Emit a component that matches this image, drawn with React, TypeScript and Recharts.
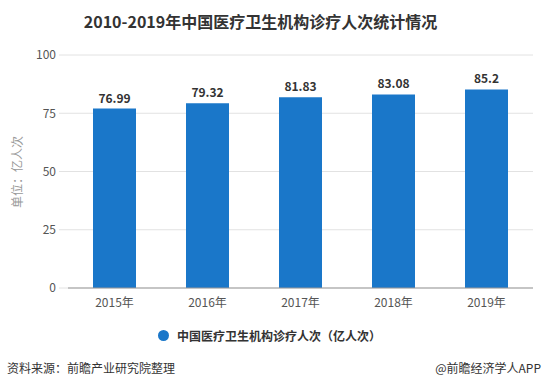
import React from 'react';
import { BarChart, Bar, XAxis, YAxis, CartesianGrid, Legend, LabelList } from 'recharts';

const years = ['2015年', '2016年', '2017年', '2018年', '2019年'];
const visits = [76.99, 79.32, 81.83, 83.08, 85.2];
const yTicks = [0, 25, 50, 75, 100];

const BLUE = '#1a77c9';
const FONT = '"Microsoft YaHei", "Noto Sans CJK SC", "Noto Sans", sans-serif';

const data = years.map((year, i) => ({ year, value: visits[i] }));

const renderLegend = () => (
    <div style={{ display: 'flex', justifyContent: 'center', alignItems: 'center', marginLeft: -6 }}>
        <span style={{ width: 11, height: 11, borderRadius: '50%', background: BLUE, display: 'inline-block', marginRight: 8 }} />
        <span style={{ fontSize: 12, fontWeight: 'bold', color: '#333' }}>中国医疗卫生机构诊疗人次（亿人次）</span>
    </div>
);

const App: React.FC = () => {
    return (
        <div style={{ position: 'relative', width: 545, height: 388, background: '#fff', fontFamily: FONT, overflow: 'hidden' }}>
            <style>{'body { margin: 0; }'}</style>

            {/* Title */}
            <div style={{ position: 'absolute', top: 9, left: 0, width: 521, textAlign: 'center', fontSize: 16, fontWeight: 'bold', color: '#333' }}>
                2010-2019年中国医疗卫生机构诊疗人次统计情况
            </div>

            {/* Y axis unit */}
            <div
                style={{
                    position: 'absolute',
                    left: 16,
                    top: 172,
                    transform: 'translate(-50%, -50%) rotate(-90deg)',
                    fontSize: 12,
                    color: '#999',
                    whiteSpace: 'nowrap',
                }}
            >
                单位：亿人次
            </div>

            <BarChart
                width={545}
                height={388}
                data={data}
                margin={{ top: 55, right: 12, left: 10, bottom: 53 }}
                style={{ position: 'absolute', top: 0, left: 0 }}
            >
                <CartesianGrid vertical={false} stroke="#e2e2e2" />
                <XAxis
                    dataKey="year"
                    tickLine={false}
                    axisLine={{ stroke: '#999' }}
                    tick={{ fontSize: 12, fill: '#555' }}
                    tickMargin={4}
                    height={30}
                />
                <YAxis
                    domain={[0, 100]}
                    ticks={yTicks}
                    width={58}
                    axisLine={false}
                    tickLine={{ stroke: '#e2e2e2' }}
                    tickSize={9}
                    tickMargin={3}
                    tick={{ fontSize: 12, fill: '#555' }}
                />
                <Legend content={renderLegend} wrapperStyle={{ top: 327, left: 0, width: 545 }} />
                <Bar dataKey="value" fill={BLUE} barSize={43} isAnimationActive={false}>
                    <LabelList dataKey="value" position="top" offset={6} style={{ fontSize: 12, fontWeight: 'bold', fill: '#333' }} />
                </Bar>
            </BarChart>

            {/* Footer */}
            <div style={{ position: 'absolute', top: 359, left: 7, fontSize: 12, color: '#333', whiteSpace: 'nowrap' }}>资料来源：前瞻产业研究院整理</div>
            <div style={{ position: 'absolute', top: 359, left: 0, width: 541, textAlign: 'right', fontSize: 12, color: '#333', whiteSpace: 'nowrap' }}>
                @前瞻经济学人APP
            </div>
        </div>
    );
};

export default App;
